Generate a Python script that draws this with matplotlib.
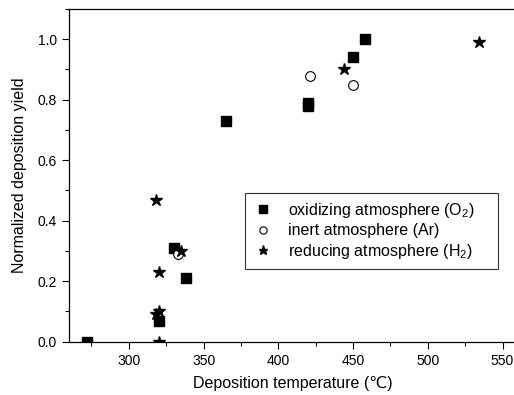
import matplotlib
matplotlib.use("Agg")
import matplotlib.pyplot as plt
from matplotlib.ticker import MultipleLocator

plt.rcParams["font.family"] = ["Liberation Sans", "DejaVu Sans"]
plt.rcParams["mathtext.fontset"] = "custom"
plt.rcParams["mathtext.rm"] = "Liberation Sans"
plt.rcParams["mathtext.it"] = "Liberation Sans"

# oxidizing atmosphere (O2)
temp_o2 = [272, 320, 330, 338, 365, 420, 420, 450, 458]
yield_o2 = [0.0, 0.07, 0.31, 0.21, 0.73, 0.78, 0.79, 0.94, 1.0]

# inert atmosphere (Ar)
temp_ar = [333, 421, 450]
yield_ar = [0.29, 0.88, 0.85]

# reducing atmosphere (H2)
temp_h2 = [318, 320, 320, 318, 320, 335, 444, 534]
yield_h2 = [0.47, 0.23, 0.10, 0.09, 0.0, 0.30, 0.90, 0.99]

fig = plt.figure(figsize=(5.14, 3.95), dpi=100)
ax = fig.add_axes([69 / 514, 1 - 341.7 / 395, 447 / 514, 332.7 / 395])

ax.plot(temp_o2, yield_o2, "s", color="black", ms=7,
        label="oxidizing atmosphere (O$_2$)")
ax.plot(temp_ar, yield_ar, "o", mfc="white", mec="black", mew=0.8, ms=7,
        label="inert atmosphere (Ar)")
ax.plot(temp_h2, yield_h2, "*", color="black", ms=9,
        label="reducing atmosphere (H$_2$)")

ax.set_xlim(260, 559)
ax.set_ylim(0, 1.1)
ax.xaxis.set_major_locator(MultipleLocator(50))
ax.xaxis.set_minor_locator(MultipleLocator(25))
ax.yaxis.set_major_locator(MultipleLocator(0.2))
ax.yaxis.set_minor_locator(MultipleLocator(0.1))
ax.yaxis.set_major_formatter(matplotlib.ticker.FormatStrFormatter("%.1f"))
ax.tick_params(which="major", direction="out", length=5, width=0.8,
               labelsize=10, top=False, right=False)
ax.tick_params(which="minor", direction="out", length=3, width=0.8,
               top=False, right=False)
for s in ax.spines.values():
    s.set_linewidth(0.9)
ax.spines["right"].set_visible(False)

ax.set_xlabel("Deposition temperature (℃)", fontsize=11.5, labelpad=6)
ax.set_ylabel("Normalized deposition yield", fontsize=11.5, labelpad=8)

# legend box spans roughly px 245..498 horizontally
leg = ax.legend(loc="upper left", bbox_to_anchor=(0.394, 0.0, 0.566, 0.447),
                mode="expand", fontsize=11.5, frameon=True, fancybox=False,
                edgecolor="black", markerscale=0.75, handlelength=1.2,
                handletextpad=1.0, labelspacing=0.22, borderpad=0.5,
                borderaxespad=0)
leg.get_frame().set_linewidth(0.8)

fig.savefig("out.png", dpi=100)
